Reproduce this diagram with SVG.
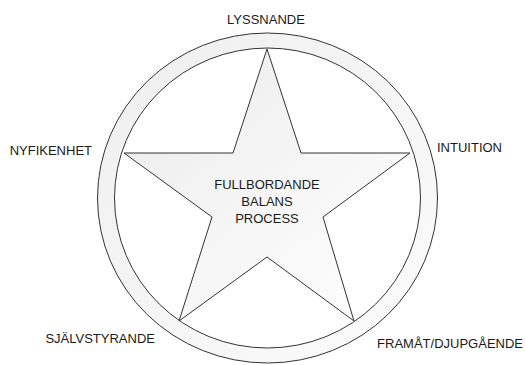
<svg xmlns="http://www.w3.org/2000/svg" width="525" height="365" viewBox="0 0 525 365">
<style>
.lbl{font-family:"Liberation Sans",Arial,sans-serif;font-size:13px;fill:#1a1a1a}
.ln{stroke:#333;stroke-width:1}
</style>
<defs>
<linearGradient id="ringG" x1="0" y1="0" x2="1" y2="1">
<stop offset="0" stop-color="#efefef"/><stop offset="1" stop-color="#fbfbfb"/>
</linearGradient>
<linearGradient id="starG" x1="0" y1="0" x2="1" y2="1">
<stop offset="0" stop-color="#ebebeb"/><stop offset="1" stop-color="#ffffff"/>
</linearGradient>
</defs>
<rect width="525" height="365" fill="#fff"/>
<g id="ring">
<ellipse class="ln" cx="267.5" cy="198" rx="170" ry="165" fill="url(#ringG)"/>
<ellipse class="ln" cx="267.5" cy="198" rx="153" ry="150" fill="#fff"/>
</g>
<g id="star">
<polygon class="ln" fill="url(#starG)" points="267,49 301,153 410,153 323,217 354,321 267,257 179,321 212,217 124,153 233,153"/>
<text class="lbl" x="267" y="189" text-anchor="middle">FULLBORDANDE</text>
<text class="lbl" x="267" y="206" text-anchor="middle">BALANS</text>
<text class="lbl" x="267" y="223" text-anchor="middle">PROCESS</text>
</g>
<g id="lyssnande"><text class="lbl" x="266" y="24" text-anchor="middle">LYSSNANDE</text></g>
<g id="nyfikenhet"><text class="lbl" x="92" y="155" text-anchor="end">NYFIKENHET</text></g>
<g id="intuition"><text class="lbl" x="437" y="152">INTUITION</text></g>
<g id="sjalvstyrande"><text class="lbl" x="155" y="343" text-anchor="end">SJÄLVSTYRANDE</text></g>
<g id="framat"><text class="lbl" x="523" y="348" text-anchor="end">FRAMÅT/DJUPGÅENDE</text></g>
<g id="connectors"/>
</svg>
